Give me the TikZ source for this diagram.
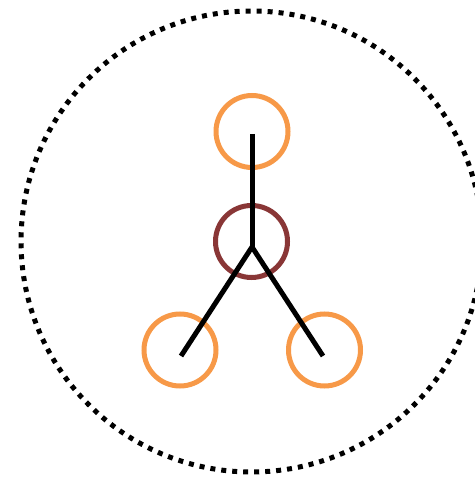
\documentclass[tikz,border=0pt]{standalone}
\usepackage{tikz}
\usetikzlibrary{
  positioning
}
\definecolor{outerStroke}{RGB}{247,153,72}
\definecolor{coreStroke}{RGB}{137,54,54}
\colorlet{ink}{black}
\tikzset{
  bond/.style={draw=ink, line width=5pt},
  ligand/.style={
    circle,
    draw=outerStroke,
    line width=5pt,
    minimum size=72pt,
    inner sep=0pt
  },
  core/.style={
    circle,
    draw=coreStroke,
    line width=5pt,
    minimum size=72pt,
    inner sep=0pt
  },
  shell/.style={
    circle,
    draw=ink,
    line width=5pt,
    dash pattern=on 5pt off 6pt,
    minimum size=461pt,
    inner sep=0pt
  }
}

\begin{document}
\begin{tikzpicture}[x=1pt,y=-1pt]
  \useasboundingbox (0,0) rectangle (474,478);

  \node[shell] (boundary) at (251.5,241.5) {};

  \node[ligand] (top) at (252,131.5) {};
  \node[core] (centre) at (251.5,241.5) {};
  \node[ligand] (left) at (180,350) {};
  \node[ligand] (right) at (324.5,350) {};

  \coordinate (topend) at (252,134);
  \coordinate (hub) at (252,247);
  \coordinate (leftend) at (181,356);
  \coordinate (rightend) at (323,356);

  \draw[bond] (topend) -- (hub);
  \draw[bond] (hub) -- (leftend);
  \draw[bond] (hub) -- (rightend);
\end{tikzpicture}
\end{document}
